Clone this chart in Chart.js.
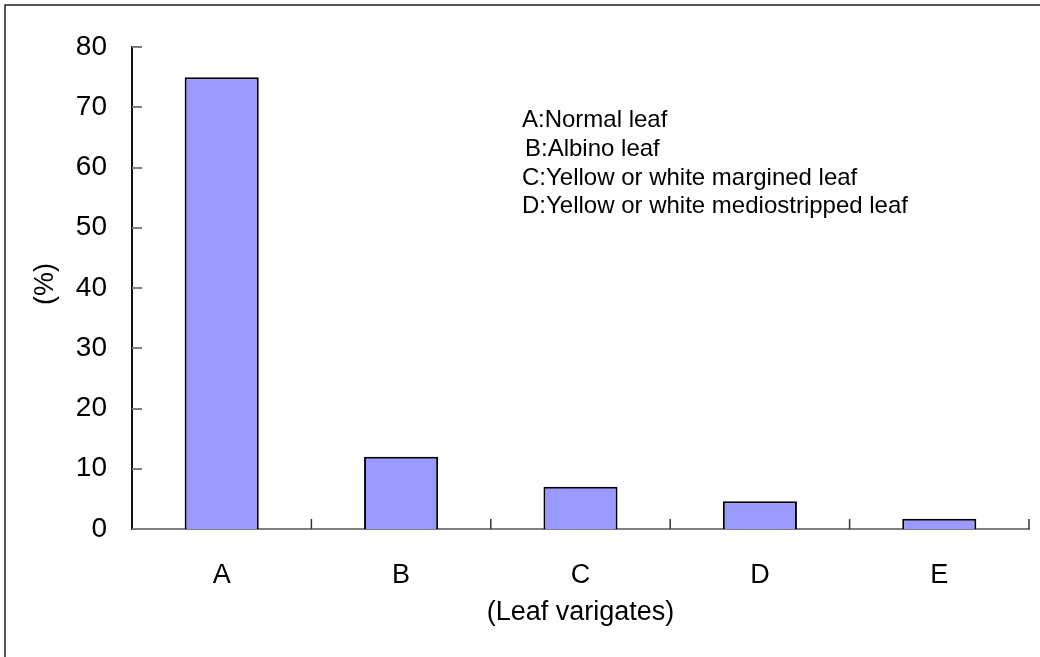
<!DOCTYPE html>
<html>
<head>
<meta charset="utf-8">
<script src="https://cdn.jsdelivr.net/npm/chart.js@4.4.0/dist/chart.umd.min.js"></script>
<style>
html,body{margin:0;padding:0;background:#fff;}
#wrap{width:1040px;height:657px;position:relative;}
</style>
</head>
<body>
<div id="wrap"><canvas id="c" width="1040" height="657"></canvas></div>
<script>
const categories = ['A', 'B', 'C', 'D', 'E'];
const values = [75, 12, 7, 4.6, 1.7];
const yTicks = [0, 10, 20, 30, 40, 50, 60, 70, 80];
const noteLines = ['A:Normal leaf', 'B:Albino leaf', 'C:Yellow or white margined leaf', 'D:Yellow or white mediostripped leaf'];
const xTitle = '(Leaf varigates)';
const yTitle = '(%)';

const FONT = '"Liberation Sans", Arial, sans-serif';

const decor = {
  id: 'decor',
  afterDraw(chart) {
    const ctx = chart.ctx;
    const xs = chart.scales.x, ys = chart.scales.y;
    const ca = chart.chartArea;
    ctx.save();
    // inward y ticks
    ctx.strokeStyle = '#808080';
    ctx.lineWidth = 2;
    yTicks.forEach(v => {
      const y = Math.round(ys.getPixelForValue(v));
      ctx.beginPath();
      ctx.moveTo(ca.left, y);
      ctx.lineTo(ca.left + 10, y);
      ctx.stroke();
    });
    // inward x ticks at category boundaries
    ctx.strokeStyle = '#333';
    ctx.lineWidth = 1.5;
    for (let i = 1; i <= categories.length; i++) {
      const x = (xs.getPixelForValue(i - 1) + xs.getPixelForValue(Math.min(i, categories.length - 1))) / 2;
      const bx = i === categories.length ? ca.right : x;
      ctx.beginPath();
      ctx.moveTo(bx, ca.bottom);
      ctx.lineTo(bx, ca.bottom - 10);
      ctx.stroke();
    }
    // outer frame
    ctx.strokeStyle = '#222';
    ctx.lineWidth = 1.5;
    ctx.strokeRect(5, 5, 1200, 1200);
    // titles
    ctx.fillStyle = '#000';
    ctx.font = '27px ' + FONT;
    ctx.textAlign = 'center';
    ctx.textBaseline = 'middle';
    ctx.fillText(xTitle, (ca.left + ca.right) / 2, 613);
    ctx.save();
    ctx.translate(46, 284);
    ctx.rotate(-Math.PI / 2);
    ctx.fillText(yTitle, 0, 0);
    ctx.restore();
    // note text
    ctx.font = '24px ' + FONT;
    ctx.textAlign = 'left';
    ctx.textBaseline = 'alphabetic';
    const nx = [522, 525, 522, 522];
    const ny = [127, 156, 185, 213];
    noteLines.forEach((t, i) => ctx.fillText(t, nx[i], ny[i]));
    ctx.restore();
  }
};

new Chart(document.getElementById('c'), {
  type: 'bar',
  data: {
    labels: categories,
    datasets: [{
      data: values,
      backgroundColor: '#9999FF',
      borderColor: '#000',
      borderWidth: 2,
      barPercentage: 0.413,
      categoryPercentage: 1
    }]
  },
  options: {
    responsive: false,
    animation: false,
    devicePixelRatio: 1,
    layout: { padding: { left: 0, top: 47, right: 11, bottom: 0 } },
    plugins: { legend: { display: false }, tooltip: { enabled: false } },
    scales: {
      x: {
        grid: { display: false, drawTicks: false },
        border: { display: true, color: '#808080', width: 2 },
        ticks: { color: '#000', font: { family: FONT, size: 27 }, padding: 30 },
        afterFit(s) { s.height = 128; }
      },
      y: {
        min: 0, max: 80,
        grid: { display: false, drawTicks: false },
        border: { display: true, color: '#111', width: 2 },
        ticks: { stepSize: 10, color: '#000', font: { family: FONT, size: 28 }, padding: 25 },
        afterFit(s) { s.width = 132; }
      }
    }
  },
  plugins: [decor]
});
</script>
</body>
</html>
